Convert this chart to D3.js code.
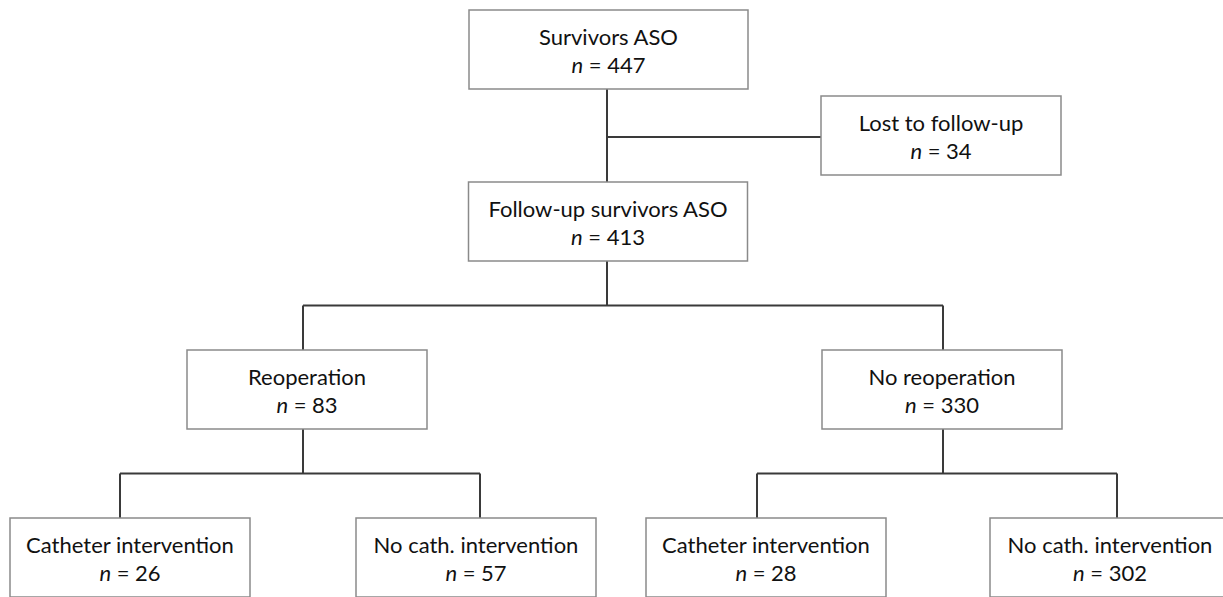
<!DOCTYPE html>
<html>
<head>
<meta charset="utf-8">
<script src="https://cdn.jsdelivr.net/npm/d3@7"></script>
<style>
  body { margin: 0; background: #fff; }
  svg { display: block; }
  .box { fill: #fff; stroke: #8a8a8a; stroke-width: 1.5; }
  .link { fill: none; stroke: #3a3a3a; stroke-width: 2; }
  text { font-family: Lato, "Open Sans", sans-serif; font-size: 22px; fill: #111; }
</style>
</head>
<body>
<svg width="1223" height="597"></svg>
<script>
// flowchart content
var ids    = ["top", "lost", "follow", "reop", "noreop", "reopCath", "reopNoCath", "noreopCath", "noreopNoCath"];
var labels = ["Survivors ASO", "Lost to follow-up", "Follow-up survivors ASO", "Reoperation", "No reoperation",
              "Catheter intervention", "No cath. intervention", "Catheter intervention", "No cath. intervention"];
var counts = [447, 34, 413, 83, 330, 26, 57, 28, 302];
var parents = [null, "top", "top", "follow", "follow", "reop", "reop", "noreop", "noreop"];

var svg = d3.select("svg"),
    width = +svg.attr("width"),
    height = +svg.attr("height");

// layout: rows and column centres
var y = d3.scaleOrdinal()
    .domain(["top", "side", "follow", "mid", "leaf"])
    .range([10, 96, 182, 350, 518]);
var boxH = 79;

var layout = {
  top:          { row: "top",    cx: 608.5, w: 279 },
  lost:         { row: "side",   cx: 941,   w: 240 },
  follow:       { row: "follow", cx: 608,   w: 279 },
  reop:         { row: "mid",    cx: 307,   w: 240 },
  noreop:       { row: "mid",    cx: 942,   w: 240 },
  reopCath:     { row: "leaf",   cx: 130,   w: 240 },
  reopNoCath:   { row: "leaf",   cx: 476,   w: 240 },
  noreopCath:   { row: "leaf",   cx: 766,   w: 240 },
  noreopNoCath: { row: "leaf",   cx: 1110,  w: 240 }
};
// where the connector drops into each box
var stem = { top: 607, follow: 607, reop: 303, noreop: 943,
             reopCath: 120, reopNoCath: 480, noreopCath: 757, noreopNoCath: 1117 };

var nodes = ids.map(function(id, i) {
  var l = layout[id];
  return { id: id, label: labels[i], n: counts[i], parent: parents[i],
           x: l.cx - l.w / 2, y: y(l.row), w: l.w, h: boxH };
});
var byId = {};
nodes.forEach(function(d) { byId[d.id] = d; });

// connectors
var links = svg.append("g").attr("class", "links");
var line = d3.line();

// main spine top -> follow, with side branch to lost
var t = byId.top, f = byId.follow, lost = byId.lost;
links.append("path").attr("class", "link")
    .attr("d", line([[stem.top, t.y + t.h], [stem.top, f.y]]));
links.append("path").attr("class", "link")
    .attr("d", line([[stem.top, lost.y + lost.h / 2 + 1.5], [lost.x, lost.y + lost.h / 2 + 1.5]]));

// branching levels
["follow", "reop", "noreop"].forEach(function(pid) {
  var p = byId[pid];
  var kids = nodes.filter(function(d) { return d.parent === pid; });
  var yMid = p.y + p.h + (kids[0].y - p.y - p.h) / 2;
  var px = stem[pid];
  links.append("path").attr("class", "link")
      .attr("d", line([[px, p.y + p.h], [px, yMid]]));
  var xs = kids.map(function(k) { return stem[k.id]; });
  links.append("path").attr("class", "link")
      .attr("d", line([[d3.min(xs), yMid], [d3.max(xs), yMid]]));
  kids.forEach(function(k) {
    links.append("path").attr("class", "link")
        .attr("d", line([[stem[k.id], yMid], [stem[k.id], k.y]]));
  });
});

// boxes
var node = svg.append("g").attr("class", "nodes")
  .selectAll("g")
  .data(nodes)
  .enter().append("g")
    .attr("transform", function(d) { return "translate(" + d.x + "," + d.y + ")"; });

node.append("rect")
    .attr("class", "box")
    .attr("width", function(d) { return d.w; })
    .attr("height", function(d) { return d.h; });

node.append("text")
    .attr("x", function(d) { return d.w / 2; })
    .attr("y", 35)
    .attr("text-anchor", "middle")
    .text(function(d) { return d.label; });

var second = node.append("text")
    .attr("x", function(d) { return d.w / 2; })
    .attr("y", 63)
    .attr("text-anchor", "middle");
second.append("tspan").style("font-style", "italic").text("n");
second.append("tspan").text(function(d) { return " = " + d.n; });
</script>
</body>
</html>
